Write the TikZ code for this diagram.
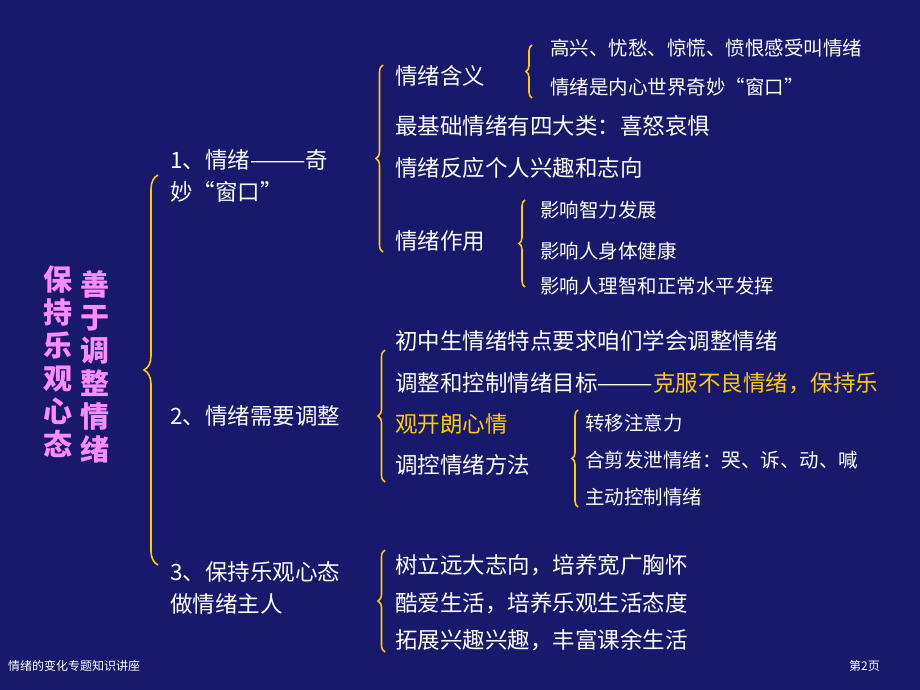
\documentclass[tikz,border=0pt]{standalone}
\usepackage{fontspec}
\setmainfont{Liberation Serif}
\newfontfamily\cjk{Noto Sans CJK SC}
\usetikzlibrary{decorations.pathreplacing}
\definecolor{navy}{RGB}{24,24,108}
\definecolor{bracey}{RGB}{255,204,0}
\definecolor{titlepink}{RGB}{255,140,255}
\tikzset{
  item/.style={anchor=west, text=white, inner sep=0pt, font=\cjk\fontsize{22.5}{26}\selectfont},
  small item/.style={item, font=\cjk\fontsize{19.5}{22}\selectfont},
  brace/.style={draw=bracey, line width=1.6pt, decorate, decoration={brace, amplitude=#1}},
  brace/.default=6pt,
}
\begin{document}
\begin{tikzpicture}[x=1pt, y=-1pt]
  \fill[navy] (0,0) rectangle (920,690);
  \useasboundingbox (0,0) rectangle (920,690);

  % title
  \node [text=titlepink, font=\cjk\fontsize{29}{33}\selectfont\bfseries, align=center, inner sep=0pt] (t1) at (95,367) {善\\于\\调\\整\\情\\绪};
  \node [text=titlepink, font=\cjk\fontsize{29}{33}\selectfont\bfseries, align=center, inner sep=0pt] (t2) at (58,362) {保\\持\\乐\\观\\心\\态};
  \draw [brace=14pt] (158,565) -- (158,175);

  % part 1
  \node [item] (a1) at (170,160) {1、情绪———奇};
  \node [item] (a2) at (170,192) {妙“窗口”};
  \draw [brace=7pt] (383,252) -- (383,65);
  \node [item] (b1) at (395,76) {情绪含义};
  \draw [brace=6pt] (532,98) -- (532,45);
  \node [small item] (c1) at (550,48) {高兴、忧愁、惊慌、愤恨感受叫情绪};
  \node [small item] (c2) at (550,87) {情绪是内心世界奇妙“窗口”};
  \node [item] (b2) at (395,126) {最基础情绪有四大类：喜怒哀惧};
  \node [item] (b3) at (395,168) {情绪反应个人兴趣和志向};
  \node [item] (b4) at (395,241) {情绪作用};
  \draw [brace=6pt] (525,287) -- (525,200);
  \node [small item] (c3) at (540,210) {影响智力发展};
  \node [small item] (c4) at (540,251) {影响人身体健康};
  \node [small item] (c5) at (540,286) {影响人理智和正常水平发挥};

  % part 2
  \node [item] (a3) at (170,416) {2、情绪需要调整};
  \draw [brace=7pt] (385,482) -- (385,350);
  \node [item] (b5) at (395,341) {初中生情绪特点要求咱们学会调整情绪};
  \node [item] (b6) at (395,383) {调整和控制情绪目标———\textcolor{bracey}{克服不良情绪，保持乐}};
  \node [item, text=bracey] (b7) at (395,424) {观开朗心情};
  \node [item] (b8) at (395,465) {调控情绪方法};
  \draw [brace=6pt] (578,507) -- (578,410);
  \node [small item] (c6) at (585,423) {转移注意力};
  \node [small item] (c7) at (585,460) {合剪发泄情绪：哭、诉、动、喊};
  \node [small item] (c8) at (585,497) {主动控制情绪};

  % part 3
  \node [item] (a4) at (170,572) {3、保持乐观心态};
  \node [item] (a5) at (170,604) {做情绪主人};
  \draw [brace=7pt] (385,652) -- (385,550);
  \node [item] (b9) at (395,565) {树立远大志向，培养宽广胸怀};
  \node [item] (b10) at (395,603) {酷爱生活，培养乐观生活态度};
  \node [item] (b11) at (395,640) {拓展兴趣兴趣，丰富课余生活};

  % footer
  \node [anchor=west, text=white, inner sep=0pt, font=\cjk\fontsize{12}{14}\selectfont] (f1) at (8,666) {情绪的变化专题知识讲座};
  \node [anchor=east, text=white, inner sep=0pt, font=\cjk\fontsize{12}{14}\selectfont] (f2) at (880,666) {第2页};
\end{tikzpicture}
\end{document}
